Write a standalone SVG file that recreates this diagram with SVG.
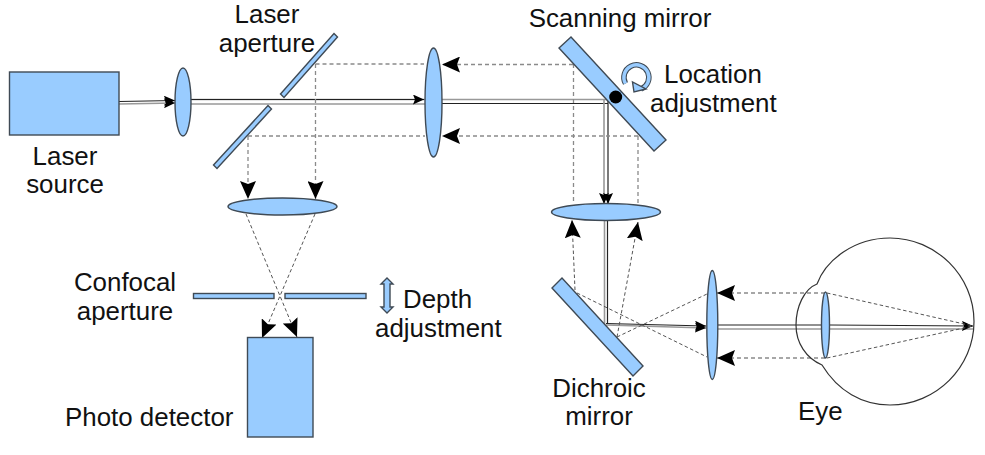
<svg xmlns="http://www.w3.org/2000/svg" width="985" height="455" viewBox="0 0 985 455">
<style>
.o{fill:#99ccff;stroke:#3f4a55;stroke-width:1.4}
.t{font-family:"Liberation Sans",Arial,sans-serif;font-size:25.900px;fill:#111}
.m{text-anchor:middle}
.d{fill:none;stroke:#8a8a8a;stroke-width:1.3;stroke-dasharray:4 3}
.f{fill:none;stroke:#555;stroke-width:1;stroke-dasharray:3.5 2.5}
.b{fill:none;stroke:#222;stroke-width:1.2}
.g{fill:none;stroke:#999;stroke-width:1.6}
.a{fill:#000;stroke:none}
</style>
<defs>
<marker id="ar" markerUnits="userSpaceOnUse" markerWidth="19" markerHeight="16" refX="18" refY="8" orient="auto"><path class="a" d="M0 0L18 8L0 16L3 8Z"/></marker>
<marker id="as" markerUnits="userSpaceOnUse" markerWidth="12" markerHeight="10" refX="11" refY="5" orient="auto"><path class="a" d="M0 0L11 5L0 10L2 5Z"/></marker>
</defs>
<rect width="985" height="455" fill="#fff"/>
<g id="connectors">
<path class="b" d="M119 101.500L175 100.500" marker-end="url(#as)"/>
<path class="g" d="M119 104L175 103" marker-end="url(#as)"/>
<path class="g" d="M191 99.500H426"/><path class="g" d="M191 104H426"/>
<path class="b" d="M191 99.500H424" marker-end="url(#as)"/>
<path class="g" d="M441 99.500H608" stroke-width="2"/>
<path class="b" d="M441 103.500H608"/>
<path class="g" d="M604 100V204" marker-end="url(#as)"/>
<path class="b" d="M608 100V204" marker-end="url(#as)"/>
<path class="g" d="M604.500 220V324"/>
<path class="b" d="M607.500 220V323"/>
<path class="g" d="M606 325L706 328" marker-end="url(#as)"/>
<path class="b" d="M606 323.500L706 326" marker-end="url(#as)"/>
<path class="g" d="M718 329H823M830 329H973"/>
<path class="b" d="M718 325H823M830 325L973 326" marker-end="url(#as)"/>
<path class="d" d="M315.500 64H424"/>
<path class="d" d="M573 64.500H442" marker-end="url(#ar)"/>
<path class="d" d="M248 136H425"/>
<path class="d" d="M638 136H442" marker-end="url(#ar)"/>
<path class="d" d="M315.500 64V199" marker-end="url(#ar)"/>
<path class="d" d="M248 136V199" marker-end="url(#ar)"/>
<path class="d" d="M573.500 64V204"/>
<path class="d" d="M638 136V204"/>
<path class="f" d="M575 290L572 220" marker-end="url(#ar)"/>
<path class="f" d="M617 337L638 222" marker-end="url(#ar)"/>
<path class="f" d="M577 293L707 357"/>
<path class="f" d="M617 337L707 294"/>
<path class="d" d="M825 293H717" marker-end="url(#ar)"/>
<path class="d" d="M825 358H717" marker-end="url(#ar)"/>
<path class="f" d="M827 293L973 326"/>
<path class="f" d="M827 358L973 326"/>
<path class="f" d="M246 214L297 337" marker-end="url(#ar)"/>
<path class="f" d="M315 214L262 338" marker-end="url(#ar)"/>
</g>
<g id="laser-source"><rect class="o" x="9.500" y="72" width="109.500" height="63"/><text class="t m" x="65" y="165">Laser</text><text class="t m" x="65" y="193">source</text></g>
<g id="lens-1"><ellipse class="o" cx="183" cy="102" rx="8" ry="34"/></g>
<g id="laser-aperture"><path class="o" d="M334 33.500L337.500 37L284 97.500L280.500 94Z"/><path class="o" d="M268 105.500L271.500 109L217 168.500L213.500 165Z"/><text class="t m" x="267" y="23">Laser</text><text class="t m" x="267" y="52">aperture</text></g>
<g id="lens-2"><ellipse class="o" cx="433.500" cy="102.500" rx="8.500" ry="54.500"/></g>
<g id="scanning-mirror"><path class="o" d="M571 37L559 48L654 151L666 140Z"/><circle cx="615.700" cy="97" r="6.500" fill="#000"/><path d="M625.500 83.500A12.500 12.500 0 1 1 641 89" fill="none" stroke="#3f4a55" stroke-width="5.500"/><path d="M625.500 83.500A12.500 12.500 0 1 1 641 89" fill="none" stroke="#99ccff" stroke-width="3.500"/><path class="o" d="M632.500 82L634 92L646 89Z" stroke-width="1"/><text class="t m" x="620" y="27">Scanning mirror</text><text class="t" x="664" y="83">Location</text><text class="t" x="650" y="112">adjustment</text></g>
<g id="lens-3"><ellipse class="o" cx="282.500" cy="206.500" rx="54.500" ry="8.500"/></g>
<g id="confocal-aperture"><rect class="o" x="193.500" y="293.500" width="80.500" height="5"/><rect class="o" x="285" y="293.500" width="81" height="5"/><path class="o" d="M387 278L393 284H390V307H393L387 313L381 307H384V284H381Z"/><text class="t m" x="125" y="291">Confocal</text><text class="t m" x="125" y="320">aperture</text><text class="t" x="403" y="308">Depth</text><text class="t" x="375" y="337">adjustment</text></g>
<g id="photo-detector"><rect class="o" x="247.500" y="337.500" width="65.500" height="99.500"/><text class="t" x="65" y="426">Photo detector</text></g>
<g id="lens-4"><ellipse class="o" cx="606" cy="212" rx="54.500" ry="8.500"/></g>
<g id="dichroic-mirror"><path class="o" d="M562 278L552 288L633 376L643 366Z"/><text class="t m" x="599" y="397">Dichroic</text><text class="t m" x="599" y="425">mirror</text></g>
<g id="lens-5"><ellipse class="o" cx="712.300" cy="325" rx="5.500" ry="54.500"/></g>
<g id="eye"><path d="M817 284C804 289 796 307 796 325C796 343 806 358 822 365C838 391 862 405 890 405C936 405 974 367 974 321.500C974 276 936 238 890 238C854 238 826 260 817 284Z" fill="none" stroke="#333" stroke-width="1.2"/><ellipse class="o" cx="825.500" cy="325" rx="4" ry="33"/><text class="t" x="798" y="420">Eye</text></g>
</svg>
